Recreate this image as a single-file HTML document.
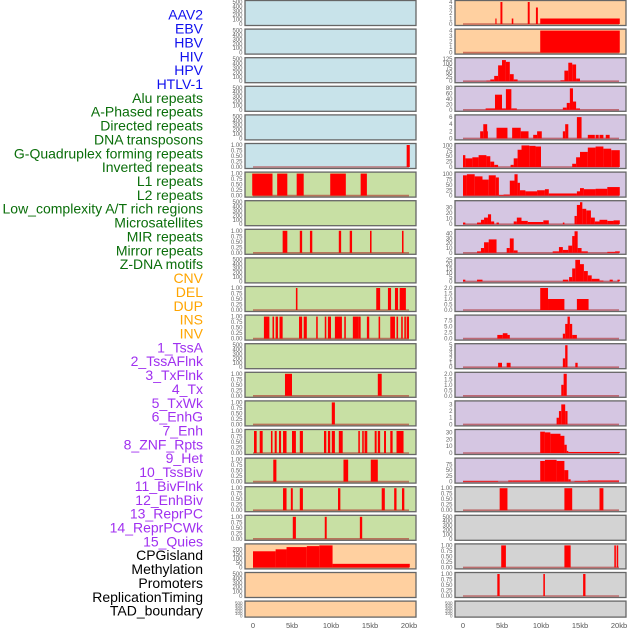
<!DOCTYPE html>
<html><head><meta charset="utf-8"><style>
body{margin:0;background:#fff;}
svg{display:block;font-family:"Liberation Sans",sans-serif;}
</style></head><body>
<svg id="chart" width="630" height="630" viewBox="0 0 630 630"></svg>
<script>
// ---- labels ----
const labelNames=["AAV2","EBV","HBV","HIV","HPV","HTLV-1","Alu repeats","A-Phased repeats","Directed repeats","DNA transposons","G-Quadruplex forming repeats","Inverted repeats","L1 repeats","L2 repeats","Low_complexity A/T rich regions","Microsatellites","MIR repeats","Mirror repeats","Z-DNA motifs","CNV","DEL","DUP","INS","INV","1_TssA","2_TssAFlnk","3_TxFlnk","4_Tx","5_TxWk","6_EnhG","7_Enh","8_ZNF_Rpts","9_Het","10_TssBiv","11_BivFlnk","12_EnhBiv","13_ReprPC","14_ReprPCWk","15_Quies","CPGisland","Methylation","Promoters","ReplicationTiming","TAD_boundary"];
const labelGroups=[0,0,0,0,0,0,1,1,1,1,1,1,1,1,1,1,1,1,1,2,2,2,2,2,3,3,3,3,3,3,3,3,3,3,3,3,3,3,3,4,4,4,4,4];
const groupColors=["#1010ee","#0a6e0a","#ffa500","#a030f0","#000000"];

// ---- tick label sets ----
const T500=["0","100","200","300","400","500"];
const TFRAC=["0.00","0.25","0.50","0.75","1.00"];

// ---- left column data: [startKb, endKb, value] ----
const L_HTLV=[[19.7,20.1,1]];
const L_ALU=[[-0.1,2.5,1],[3.1,4.4,1],[5.6,6.5,1],[9.9,11.9,1],[13.8,14.6,1]];
const L_DIRECTED=[[3.8,4.4,1],[6.0,6.3,1],[7.3,7.6,1],[11.0,11.3,1],[12.4,12.7,1],[15.0,15.2,1],[19.1,19.3,1]];
const L_GQUAD=[[5.5,5.7,1],[15.8,16.3,1],[17.3,17.7,1],[18.2,18.6,1],[18.8,19.6,1]];
const L_INVERTED=[[1.4,2.1,1],[2.5,2.7,1],[2.9,3.2,1],[3.4,3.8,1],[5.9,6.3,1],[6.5,6.9,1],[8.1,8.3,1],[9.2,9.4,1],[9.6,10.0,1],[10.5,11.4,1],[11.7,11.9,1],[12.8,13.5,1],[13.5,13.8,1],[14.6,14.9,1],[16.1,16.3,1],[17.6,18.2,1],[18.4,18.6,1],[19.0,19.2,1],[19.4,19.6,1],[19.7,20.0,1]];
const L_ROW13=[[4.1,5.0,1],[16.0,16.5,1]];
const L_ROW14=[[10.1,10.5,1]];
const L_ROW15=[[0.13,0.47,1],[0.86,1.24,1],[2.3,2.5,1],[2.78,3.04,1],[3.33,3.6,1],[3.85,4.3,1],[5.0,5.5,1],[6.0,6.4,1],[9.1,9.4,1],[9.6,9.9,1],[10.1,10.5,1],[11.0,11.5,1],[13.5,13.7,1],[14.0,14.2,1],[14.3,14.65,1],[15.6,15.85,1],[16.0,16.3,1],[16.8,17.05,1],[17.6,17.9,1],[18.4,19.3,1]];
const L_ROW16=[[2.6,3.0,1],[11.6,12.2,1],[15.1,16.0,1]];
const L_ROW17=[[3.85,4.3,1],[4.85,5.1,1],[6.0,6.4,1],[10.9,11.2,1],[16.5,16.9,1],[18.1,18.4,1],[19.1,19.4,1]];
const L_ROW18=[[5.1,5.5,1],[9.2,9.45,1],[13.7,14.0,1]];
const L_CPG=[[0,2.9,181],[2.9,4.3,203],[4.3,6.9,228],[6.9,8.5,239],[8.5,10.2,247],[10.2,20.1,40]];

// ---- right column data ----
const R_AAV2=[[4.15,4.3,1],[4.8,5.05,4],[6.25,6.45,1],[8.3,8.55,4],[9.35,9.6,3],[9.9,20.1,1]];
const R_EBV=[[9.9,20.1,4]];
const R_HIV=[[3.0,3.5,3],[3.5,4.0,10],[4.0,4.5,30],[4.5,5.0,90],[5.0,5.5,120],[5.5,6.0,110],[6.0,6.5,40],[6.5,7.0,10],[12.5,13.0,5],[13.0,13.5,60],[13.5,14.0,105],[14.0,14.5,95],[14.5,15.0,15]];
const R_HPV=[[2.9,4.1,5],[4.1,5.0,55],[5.0,5.5,5],[5.5,6.2,75],[6.2,6.9,5],[12.8,13.3,8],[13.3,13.7,25],[13.7,14.1,78],[14.1,14.5,30],[14.5,15.0,5]];
const R_ALU=[[2.2,2.6,2],[2.6,3.1,4],[3.1,3.2,2],[4.3,5.7,3],[6.3,7.4,3],[7.4,8.4,2],[9.0,9.5,1],[9.5,10.1,2],[12.8,13.1,2],[13.1,13.5,4],[14.6,15.2,6],[16.0,16.9,1],[17.0,17.4,1],[17.5,18.0,1],[18.3,18.8,1]];
const R_GQUAD=[[0,0.3,55],[0.3,1.2,40],[1.2,2.0,45],[2.0,3.0,55],[3.0,3.5,50],[3.5,4.0,25],[4.0,4.5,10],[6.1,6.5,10],[6.5,7.0,40],[7.0,7.5,80],[7.5,8.5,100],[8.5,9.3,98],[9.3,10.0,95],[14.0,14.5,15],[14.5,15.0,45],[15.0,16.0,70],[16.0,17.0,90],[17.0,18.0,95],[18.0,19.0,85],[19.0,20.1,78]];
const R_L1=[[0,0.5,95],[0.5,1.5,100],[1.5,2.5,90],[2.5,3.3,75],[3.3,4.2,95],[4.2,4.6,85],[4.6,5.2,3],[5.2,6.0,5],[6.0,6.6,70],[6.6,7.0,100],[7.0,7.3,60],[7.3,8.0,25],[8.0,9.5,20],[9.5,10.5,25],[10.5,11.0,30],[11.0,14.6,10],[14.6,15.0,20],[15.0,15.5,35],[15.5,17.0,30],[17.0,18.5,32],[18.5,20.1,40]];
const R_ROW7=[[0,0.3,3],[1.8,2.3,3],[2.3,2.7,8],[2.7,3.2,12],[3.2,3.6,18],[3.6,4.0,5],[4.3,4.6,3],[6.5,6.9,5],[6.9,7.5,12],[7.5,8.3,6],[8.3,10.3,4],[10.3,11.0,7],[12.8,13.0,3],[14.3,14.6,15],[14.6,15.0,35],[15.0,15.3,40],[15.3,15.8,28],[15.8,16.4,25],[16.4,16.9,12],[16.9,17.5,5],[17.5,18.5,8],[18.5,19.3,6],[19.3,20.1,7]];
const R_ROW8=[[1.8,2.3,3],[2.3,2.7,10],[2.7,3.3,22],[3.3,4.3,28],[5.6,6.0,10],[6.0,6.5,30],[6.5,7.0,5],[11.5,12.3,3],[12.3,12.8,12],[12.8,13.5,6],[13.5,14.0,15],[14.0,14.3,35],[14.3,14.7,45],[14.7,15.2,10],[15.2,16.0,3],[18.5,19.5,2],[19.5,20.1,3]];
const R_ROW9=[[0,0.3,2],[1.8,2.5,2],[12.8,13.5,2],[13.6,14.0,5],[14.0,14.4,15],[14.4,15.0,25],[15.0,15.5,20],[15.5,16.0,12],[16.0,16.5,7],[16.5,17.5,3],[17.5,18.0,1],[18.8,19.2,2],[19.8,20.1,2]];
const R_ROW10=[[9.9,10.9,2],[10.9,13.0,1],[14.6,16.1,1]];
const R_ROW11=[[4.4,5.1,1.5],[5.1,5.7,2.2],[5.7,6.0,1.5],[12.8,13.1,2],[13.1,13.4,6],[13.4,13.7,9],[13.7,14.0,6],[14.0,14.6,1.5]];
const R_ROW12=[[4.5,5.0,1],[5.6,6.1,1],[12.8,13.1,2],[13.1,13.4,5],[14.4,14.7,1]];
const R_ROW13=[[12.6,12.9,1],[12.9,13.3,2]];
const R_ROW14=[[12.0,12.3,1],[12.3,12.6,2],[12.6,13.1,3],[13.1,13.4,2]];
const R_ROW15=[[9.9,10.5,31],[10.5,11.2,30],[11.2,12.5,28],[12.5,13.0,25],[13.0,13.3,12],[13.3,13.5,3],[13.5,20.1,1.5]];
const R_ROW16=[[0,4.5,3],[5.8,6.3,5],[6.3,9.9,5],[9.9,10.5,90],[10.5,12.0,95],[12.0,13.0,90],[13.0,13.5,50],[13.5,13.8,10],[14.3,16.0,3],[16.0,20.0,5]];
const R_ROW17=[[4.7,5.7,1],[13.0,14.0,1],[17.5,18.0,1]];
const R_ROW19=[[4.9,5.5,1],[13.0,13.8,1],[19.4,19.6,1],[19.7,19.9,1]];
const R_ROW20=[[4.4,4.7,1],[10.3,10.5,1],[15.4,15.7,1]];

const xTicks=["0","5kb","10kb","15kb","20kb"];
const xTickKb=[0,5,10,15,20];

const BLUE="#c8e3ea",GREEN="#c8e0a4",PEACH="#ffd0a0",LAV="#d5c6e2",GRAY="#d3d3d3";
const leftPanels=[
["aav2",BLUE,null,T500,500],["ebv",BLUE,null,T500,500],["hbv",BLUE,null,T500,500],["hiv",BLUE,null,T500,500],["hpv",BLUE,null,T500,500],
["htlv",BLUE,L_HTLV,TFRAC,1],["alu",GREEN,L_ALU,TFRAC,1],["aphased",GREEN,null,T500,500],["directed",GREEN,L_DIRECTED,TFRAC,1],["dna-transposons",GREEN,null,T500,500],
["gquad",GREEN,L_GQUAD,TFRAC,1],["inverted",GREEN,L_INVERTED,TFRAC,1],["row12",GREEN,null,T500,500],["row13",GREEN,L_ROW13,TFRAC,1],["row14",GREEN,L_ROW14,TFRAC,1],
["row15",GREEN,L_ROW15,TFRAC,1],["row16",GREEN,L_ROW16,TFRAC,1],["row17",GREEN,L_ROW17,TFRAC,1],["row18",GREEN,L_ROW18,TFRAC,1],
["cpg",PEACH,L_CPG,["0","50","100","150","200"],247],["row20",PEACH,null,T500,500],["row21",PEACH,null,T500,500]];
const rightPanels=[
["aav2",PEACH,R_AAV2,["0","1","2","3","4"],4],["ebv",PEACH,R_EBV,["0","1","2","3","4"],4],
["hiv",LAV,R_HIV,["0","25","50","75","100","125"],125],["hpv",LAV,R_HPV,["0","20","40","60","80"],80],
["alu",LAV,R_ALU,["0","2","4","6"],6.2],["gquad",LAV,R_GQUAD,["0","25","50","75","100"],102],
["l1",LAV,R_L1,["0","25","50","75","100"],103],["row7",LAV,R_ROW7,["0","10","20","30"],40],
["row8",LAV,R_ROW8,["0","10","20","30","40"],46],["row9",LAV,R_ROW9,["0","5","10","15","20","25"],25.5],
["row10",LAV,R_ROW10,["0.0","0.5","1.0","1.5","2.0"],2],["row11",LAV,R_ROW11,["0.0","2.5","5.0","7.5"],9],
["row12",LAV,R_ROW12,["0","1","2","3","4","5"],5],["row13",LAV,R_ROW13,["0.0","0.5","1.0","1.5","2.0"],2],
["row14",LAV,R_ROW14,["0","1","2","3"],3.3],["row15",LAV,R_ROW15,["0","10","20","30"],32],
["row16",LAV,R_ROW16,["0","25","50","75"],96],["row17",GRAY,R_ROW17,TFRAC,1],
["row18",GRAY,null,T500,500],["row19",GRAY,R_ROW19,TFRAC,1],["row20",GRAY,R_ROW20,TFRAC,1],["row21",GRAY,null,T500,500]];

const svg=document.getElementById('chart');
const NS="http://www.w3.org/2000/svg";
function mk(tag,attrs,parent){const e=document.createElementNS(NS,tag);for(const k in attrs)e.setAttribute(k,attrs[k]);(parent||svg).appendChild(e);return e;}

labelNames.forEach((n,i)=>{
  const t=mk('text',{x:203,y:16+i*13.86,'text-anchor':'end','dominant-baseline':'middle','font-size':14,fill:groupColors[labelGroups[i]]});
  
  
  t.textContent=n;
});

function drawColumn(panels,x0,x1,kb0px,colName){
  const xs=kb=>kb0px+kb*7.8;
  panels.forEach((p,i)=>{
    const top=i*28.6+0.5, h=(i===21)?16:25;
    const g=mk('g',{});
    
    
    mk('rect',{x:x0,y:top,width:x1-x0,height:h,fill:p[1],stroke:'#666','stroke-width':1.3},g);
    const yTop=top+1.5, yBot=top+h-1.5;
    const ys=v=>yBot-(v/p[4])*(yBot-yTop);
    const n=p[3].length;
    p[3].forEach((lab,k)=>{
      const v=p[4]===247?k*50:(n>1?parseFloat(lab):0);
      const yy=(p[3]===T500)?yBot-(k/(n-1))*(yBot-yTop):ys(v);
      const t=mk('text',{x:x0-2.5,y:yy+2,'text-anchor':'end','font-size':(i===21?4.5:6),fill:'#666'},g);
      
      
      t.textContent=lab;
    });
    if(p[2]){
      mk('line',{x1:xs(0),x2:xs(20),y1:yBot,y2:yBot,stroke:'rgba(170,30,30,0.55)','stroke-width':1.6},g);
      p[2].forEach(d=>{
        const r=mk('rect',{x:xs(d[0]),y:ys(d[2]),width:Math.max(0.8,xs(d[1])-xs(d[0])),height:yBot-ys(d[2]),fill:'#ff0000'},g);
        
        
      });
    }
  });
  xTicks.forEach((lab,k)=>{
    const t=mk('text',{x:xs(xTickKb[k]),y:628,'text-anchor':'middle','font-size':7.5,fill:'#555'});
    
    
    t.textContent=lab;
  });
}
drawColumn(leftPanels,245,416,253,'left');
drawColumn(rightPanels,455,626,463,'right');
</script>
</body></html>
